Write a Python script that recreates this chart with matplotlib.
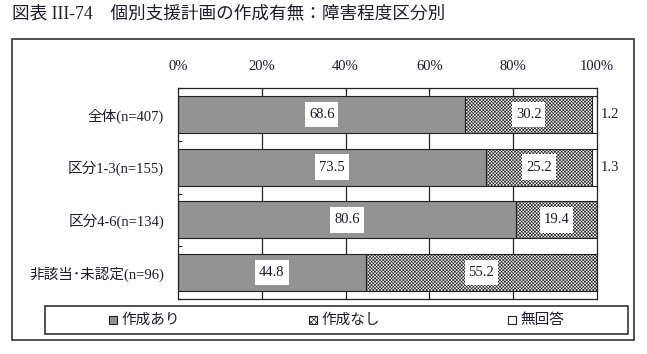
import matplotlib
matplotlib.use("Agg")
import matplotlib.pyplot as plt
from matplotlib.patches import Rectangle
import numpy as np

categories = ["全体(n=407)", "区分1-3(n=155)", "区分4-6(n=134)", "非該当･未認定(n=96)"]
ari = [68.6, 73.5, 80.6, 44.8]
nashi = [30.2, 25.2, 19.4, 55.2]
mukaitou = [1.2, 1.3, 0.0, 0.0]
series_names = ["作成あり", "作成なし", "無回答"]
xticks = [0, 20, 40, 60, 80, 100]
xtick_labels = ["0%", "20%", "40%", "60%", "80%", "100%"]
title = "図表 III-74　個別支援計画の作成有無：障害程度区分別"

FAM = ["Liberation Serif", "Noto Sans CJK JP"]
TXT = "#1c1c2c"
GRAY = "#939393"
HFACE = "#f2f2f2"
FS = 10.5
plt.rcParams["hatch.linewidth"] = 0.45
plt.rcParams["hatch.color"] = "#444444"

W, H = 647, 354
fig = plt.figure(figsize=(W / 100, H / 100), dpi=100)

# outer frame
fig.patches.append(Rectangle((12 / W, 1 - 340 / H), 622 / W, 301 / H, transform=fig.transFigure,
                             fill=False, edgecolor="#333333", linewidth=1.2))
fig.text(12 / W, 1 - 14 / H, title, family=FAM, fontsize=12.7, color=TXT, va="center", ha="left")

ax = fig.add_axes([178 / W, 1 - 299 / H, 419 / W, 211 / H])
y = np.arange(len(categories))
ax.set_xlim(0, 100)
ax.set_ylim(len(categories) - 0.5, -0.5)

for xv in xticks[1:-1]:
    ax.axvline(xv, color="#222222", linewidth=0.9, zorder=0)

h = 0.70
ax.barh(y, ari, height=h, color=GRAY, edgecolor="#222222", linewidth=0.8, zorder=2)
ax.barh(y, nashi, left=ari, height=h, color=HFACE, edgecolor="#222222", linewidth=0.8,
        hatch="xxxxxxxxxx", zorder=2)
left3 = [a + b for a, b in zip(ari, nashi)]
ax.barh(y, mukaitou, left=left3, height=h, color="white", edgecolor="#222222", linewidth=0.8, zorder=2)

box_w, box_h = 8.0, 0.48


def value_label(xc, yc, val):
    ax.add_patch(Rectangle((xc - box_w / 2, yc - box_h / 2), box_w, box_h,
                           facecolor="white", edgecolor="none", zorder=3))
    ax.text(xc, yc, f"{val:.1f}", ha="center", va="center", family=FAM,
            fontsize=FS, color=TXT, zorder=4)


for i in range(len(categories)):
    value_label(ari[i] / 2, y[i], ari[i])
    value_label(ari[i] + nashi[i] / 2, y[i], nashi[i])
    if mukaitou[i] > 0:
        ax.text(101, y[i], f"{mukaitou[i]:.1f}", ha="left", va="center", family=FAM,
                fontsize=FS, color=TXT, zorder=4)

ax.xaxis.tick_top()
ax.set_xticks(xticks)
ax.set_xticklabels(xtick_labels, family=FAM, fontsize=FS, color=TXT)
ax.tick_params(axis="x", length=0, pad=11)

ax.set_yticks(y)
ax.set_yticklabels(categories, family=FAM, fontsize=FS, color=TXT)
ax.tick_params(axis="y", which="major", length=0, pad=10)
ax.set_yticks(np.arange(len(categories) + 1) - 0.5, minor=True)
ax.tick_params(axis="y", which="minor", direction="in", length=3, width=0.8, color="#222222")
for s in ax.spines.values():
    s.set_color("#222222")
    s.set_linewidth(0.9)

# legend box
fig.patches.append(Rectangle((45 / W, 1 - 334 / H), 583 / W, 28 / H, transform=fig.transFigure,
                             fill=False, edgecolor="#333333", linewidth=1.2))
leg_x = [113, 313, 512]
faces = [GRAY, HFACE, "white"]
hatches = [None, "xxxxxx", None]
ly = 320
for lx, name, fc, ht in zip(leg_x, series_names, faces, hatches):
    fig.patches.append(Rectangle(((lx - 4) / W, 1 - (ly + 4) / H), 8 / W, 8 / H,
                                 transform=fig.transFigure, facecolor=fc, edgecolor="#222222",
                                 linewidth=0.8, hatch=ht))
    fig.text((lx + 8) / W, 1 - ly / H, name, family=FAM, fontsize=FS, color=TXT,
             ha="left", va="center")

fig.savefig("out.png", dpi=100)
